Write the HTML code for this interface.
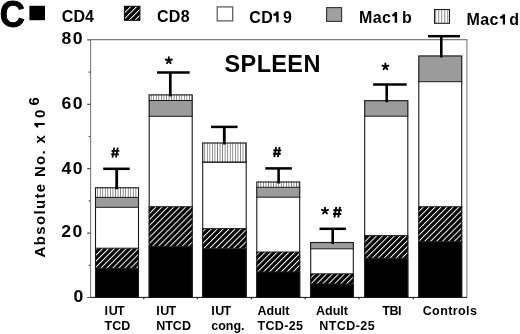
<!DOCTYPE html><html><head><meta charset="utf-8"><style>
html,body{margin:0;padding:0;background:#fff;width:520px;height:334px;overflow:hidden}
svg{display:block;will-change:transform}
text{font-family:"Liberation Sans",sans-serif;font-weight:bold;fill:#000}
</style></head><body>
<svg width="520" height="334" viewBox="0 0 520 334">
<defs>
<pattern id="hatch" patternUnits="userSpaceOnUse" width="4.2" height="4.2" patternTransform="rotate(45)"><rect width="4.2" height="4.2" fill="#000"/><rect x="0" y="0" width="1.0" height="4.2" fill="#fff"/></pattern>
<pattern id="vl" patternUnits="userSpaceOnUse" width="2.55" height="10" x="0.3"><rect width="2.55" height="10" fill="#fff"/><rect x="0" y="0" width="0.8" height="10" fill="#707070"/></pattern>
<pattern id="vl2" patternUnits="userSpaceOnUse" width="3" height="10" x="0.2"><rect width="3" height="10" fill="#fff"/><rect x="0" y="0" width="0.9" height="10" fill="#808080"/></pattern>
</defs>
<g stroke="#7d7d7d" stroke-width="1.1" fill="none">
<path d="M90.6 39.6 H466.9 V297.4"/>
<path d="M90.6 39.6 V297.5"/>
</g>
<path d="M87.2 297.5 H90.6 M88.6 265.3 H90.6 M87.2 233.1 H90.6 M88.6 200.9 H90.6 M87.2 168.7 H90.6 M88.6 136.5 H90.6 M87.2 104.3 H90.6 M88.6 72.1 H90.6 M87.2 39.9 H90.6" stroke="#555" stroke-width="1.2" fill="none"/>
<path d="M90.6 297.4 H467" stroke="#111" stroke-width="1" fill="none"/>
<path d="M143.8 297.4 V299.2 M197.4 297.4 V299.2 M251.5 297.4 V299.2 M305.2 297.4 V299.2 M359.0 297.4 V299.2 M413.3 297.4 V299.2" stroke="#333" stroke-width="1.3" fill="none"/>
<rect x="95.0" y="268.4" width="44.0" height="29.0" fill="#000"/>
<rect x="95.0" y="248.2" width="44.0" height="20.2" fill="url(#hatch)"/>
<rect x="95.0" y="207.3" width="44.0" height="40.9" fill="#fff"/>
<rect x="95.0" y="197.4" width="44.0" height="9.9" fill="#9b9b9b"/>
<rect x="95.0" y="187.3" width="44.0" height="10.1" fill="url(#vl)"/>
<rect x="95.5" y="187.8" width="43.0" height="109.6" fill="none" stroke="#1a1a1a" stroke-width="1.1"/>
<path d="M95.0 268.4 H139.0 M95.0 248.2 H139.0 M95.0 207.3 H139.0 M95.0 197.4 H139.0" stroke="#1a1a1a" stroke-width="1" fill="none"/>
<path d="M116.7 168.8 V189.3" stroke="#000" stroke-width="2.8" fill="none"/>
<path d="M103.2 168.8 H129.7" stroke="#000" stroke-width="2.5" fill="none"/>
<rect x="148.7" y="246.3" width="44.0" height="51.1" fill="#000"/>
<rect x="148.7" y="206.7" width="44.0" height="39.6" fill="url(#hatch)"/>
<rect x="148.7" y="116.3" width="44.0" height="90.4" fill="#fff"/>
<rect x="148.7" y="100.5" width="44.0" height="15.8" fill="#9b9b9b"/>
<rect x="148.7" y="94.4" width="44.0" height="6.1" fill="url(#vl)"/>
<rect x="149.2" y="94.9" width="43.0" height="202.5" fill="none" stroke="#1a1a1a" stroke-width="1.1"/>
<path d="M148.7 246.3 H192.7 M148.7 206.7 H192.7 M148.7 116.3 H192.7 M148.7 100.5 H192.7" stroke="#1a1a1a" stroke-width="1" fill="none"/>
<path d="M170.3 72.4 V96.4" stroke="#000" stroke-width="2.7" fill="none"/>
<path d="M157.1 72.4 H189.7" stroke="#000" stroke-width="2.5" fill="none"/>
<rect x="202.2" y="248.7" width="44.5" height="48.7" fill="#000"/>
<rect x="202.2" y="228.6" width="44.5" height="20.1" fill="url(#hatch)"/>
<rect x="202.2" y="162.2" width="44.5" height="66.4" fill="#fff"/>
<rect x="202.2" y="142.5" width="44.5" height="19.7" fill="url(#vl)"/>
<rect x="202.7" y="143.0" width="43.5" height="154.4" fill="none" stroke="#1a1a1a" stroke-width="1.1"/>
<path d="M202.2 248.7 H246.7 M202.2 228.6 H246.7 M202.2 162.2 H246.7 M202.2 162.2 H246.7" stroke="#1a1a1a" stroke-width="1" fill="none"/>
<path d="M224.3 126.9 V144.5" stroke="#000" stroke-width="2.8" fill="none"/>
<path d="M211.0 126.9 H237.6" stroke="#000" stroke-width="2.5" fill="none"/>
<rect x="256.3" y="272.0" width="43.9" height="25.4" fill="#000"/>
<rect x="256.3" y="252.0" width="43.9" height="20.0" fill="url(#hatch)"/>
<rect x="256.3" y="197.2" width="43.9" height="54.8" fill="#fff"/>
<rect x="256.3" y="187.3" width="43.9" height="9.9" fill="#9b9b9b"/>
<rect x="256.3" y="181.5" width="43.9" height="5.8" fill="url(#vl)"/>
<rect x="256.8" y="182.0" width="42.9" height="115.4" fill="none" stroke="#1a1a1a" stroke-width="1.1"/>
<path d="M256.3 272.0 H300.2 M256.3 252.0 H300.2 M256.3 197.2 H300.2 M256.3 187.3 H300.2" stroke="#1a1a1a" stroke-width="1" fill="none"/>
<path d="M278.6 168.4 V183.5" stroke="#000" stroke-width="2.6" fill="none"/>
<path d="M265.3 168.4 H291.9" stroke="#000" stroke-width="2.5" fill="none"/>
<rect x="310.2" y="284.0" width="43.6" height="13.4" fill="#000"/>
<rect x="310.2" y="273.8" width="43.6" height="10.2" fill="url(#hatch)"/>
<rect x="310.2" y="248.8" width="43.6" height="25.0" fill="#fff"/>
<rect x="310.2" y="242.0" width="43.6" height="6.8" fill="#9b9b9b"/>
<rect x="310.7" y="242.5" width="42.6" height="54.9" fill="none" stroke="#1a1a1a" stroke-width="1.1"/>
<path d="M310.2 284.0 H353.8 M310.2 273.8 H353.8 M310.2 248.8 H353.8" stroke="#1a1a1a" stroke-width="1" fill="none"/>
<path d="M332.7 228.8 V244.0" stroke="#000" stroke-width="2.6" fill="none"/>
<path d="M319.5 228.8 H345.9" stroke="#000" stroke-width="2.5" fill="none"/>
<rect x="364.2" y="258.2" width="44.1" height="39.2" fill="#000"/>
<rect x="364.2" y="235.6" width="44.1" height="22.6" fill="url(#hatch)"/>
<rect x="364.2" y="116.2" width="44.1" height="119.4" fill="#fff"/>
<rect x="364.2" y="100.2" width="44.1" height="16.0" fill="#9b9b9b"/>
<rect x="364.7" y="100.7" width="43.1" height="196.7" fill="none" stroke="#1a1a1a" stroke-width="1.1"/>
<path d="M364.2 258.2 H408.3 M364.2 235.6 H408.3 M364.2 116.2 H408.3" stroke="#1a1a1a" stroke-width="1" fill="none"/>
<path d="M386.7 84.4 V102.2" stroke="#000" stroke-width="2.6" fill="none"/>
<path d="M373.1 84.4 H406.7" stroke="#000" stroke-width="2.5" fill="none"/>
<rect x="418.3" y="241.7" width="43.9" height="55.7" fill="#000"/>
<rect x="418.3" y="206.7" width="43.9" height="35.0" fill="url(#hatch)"/>
<rect x="418.3" y="81.7" width="43.9" height="125.0" fill="#fff"/>
<rect x="418.3" y="55.5" width="43.9" height="26.2" fill="#9b9b9b"/>
<rect x="418.8" y="56.0" width="42.9" height="241.4" fill="none" stroke="#1a1a1a" stroke-width="1.1"/>
<path d="M418.3 241.7 H462.2 M418.3 206.7 H462.2 M418.3 81.7 H462.2" stroke="#1a1a1a" stroke-width="1" fill="none"/>
<path d="M441.3 36.2 V57.5" stroke="#000" stroke-width="2.6" fill="none"/>
<path d="M428.0 36.2 H460.0" stroke="#000" stroke-width="2.5" fill="none"/>
<path d="M114.20 147.70 L112.50 157.60 M117.70 147.70 L116.00 157.60 M111.50 150.90 L119.30 150.90 M111.20 154.30 L118.80 154.30" stroke="#000" stroke-width="1.75" fill="none"/>
<path d="M276.06 147.01 L274.33 157.11 M279.63 147.01 L277.90 157.11 M273.31 150.27 L281.26 150.27 M273.00 153.74 L280.75 153.74" stroke="#000" stroke-width="1.79" fill="none"/>
<path d="M336.24 206.83 L334.40 217.52 M340.02 206.83 L338.18 217.52 M333.32 210.29 L341.75 210.29 M333.00 213.96 L341.21 213.96" stroke="#000" stroke-width="1.89" fill="none"/>
<rect x="29.4" y="5.8" width="15.6" height="14.4" fill="#000"/>
<rect x="124.4" y="6.3" width="15.5" height="14" fill="url(#hatch)" stroke="#000" stroke-width="1"/>
<rect x="217.2" y="6.9" width="15.5" height="14" fill="#fff" stroke="#555" stroke-width="1.2"/>
<rect x="326.6" y="7.6" width="15" height="13.8" fill="#a0a0a0" stroke="#333" stroke-width="1.1"/>
<rect x="434.5" y="9.5" width="15" height="13.8" fill="url(#vl2)" stroke="#222" stroke-width="1.1"/>
<text transform="translate(61.5,44.4) scale(1.1,1)" font-size="16" letter-spacing="1.3">80</text>
<text transform="translate(61.6,108.7) scale(1.1,1)" font-size="16" letter-spacing="1.3">60</text>
<text transform="translate(61.5,173.9) scale(1.1,1)" font-size="16" letter-spacing="1.3">40</text>
<text transform="translate(61.3,237.4) scale(1.1,1)" font-size="16" letter-spacing="1.3">20</text>
<text transform="translate(73.6,302.0) scale(1.1,1)" font-size="16" letter-spacing="1.3">0</text>
<text x="224.6" y="72.3" font-size="23.5" letter-spacing="0.35">SPLEEN</text>
<path d="M168.80 60.50 L168.80 57.30 M168.80 60.50 L171.84 59.51 M168.80 60.50 L170.68 63.09 M168.80 60.50 L166.92 63.09 M168.80 60.50 L165.76 59.51" stroke="#000" stroke-width="1.9" stroke-linecap="round" fill="none"/>
<path d="M385.40 66.60 L385.40 63.40 M385.40 66.60 L388.44 65.61 M385.40 66.60 L387.28 69.19 M385.40 66.60 L383.52 69.19 M385.40 66.60 L382.36 65.61" stroke="#000" stroke-width="1.9" stroke-linecap="round" fill="none"/>
<path d="M325.00 210.80 L325.00 207.60 M325.00 210.80 L328.04 209.81 M325.00 210.80 L326.88 213.39 M325.00 210.80 L323.12 213.39 M325.00 210.80 L321.96 209.81" stroke="#000" stroke-width="1.9" stroke-linecap="round" fill="none"/>
<text x="104.6" y="314.6" font-size="12.5" dx="0 0.6 -0.8">IUT</text>
<text x="104.6" y="330.2" font-size="12.5" >TCD</text>
<text x="156.2" y="314.6" font-size="12.5" dx="0 0.6 -0.8">IUT</text>
<text x="156.2" y="330.2" font-size="12.5" >NTCD</text>
<text x="211.2" y="314.6" font-size="12.5" dx="0 0.6 -0.8">IUT</text>
<text x="211.2" y="330.2" font-size="12.5" >cong.</text>
<text x="257.5" y="314.6" font-size="12.5" >Adult</text>
<text x="257.5" y="330.2" font-size="12.5" letter-spacing="0.35">TCD-25</text>
<text x="316" y="314.6" font-size="12.5" >Adult</text>
<text x="382.3" y="314.6" font-size="12.5" letter-spacing="-0.5">TBI</text>
<text x="422.7" y="314.6" font-size="12.5" letter-spacing="0.4">Controls</text>
<text x="319.2" y="330.2" font-size="12.5" letter-spacing="0.45">NTCD-25</text>
<text transform="translate(-0.2,26.9) scale(0.95,1.02)" font-size="36.5" stroke="#000" stroke-width="0.9">C</text>
<text x="61.7" y="21.8" font-size="16" letter-spacing="0.15">CD4</text>
<text x="156.9" y="21.7" font-size="16" letter-spacing="0.4">CD8</text>
<text x="249.3" y="22.5" font-size="16" letter-spacing="0.4">CD</text>
<path d="M278.60 11.40 V22.30 H276.20 V15.70 L273.30 15.80 L273.30 13.90 Q275.60 13.10 276.30 11.40 Z" fill="#000"/>
<text x="282.9" y="22.5" font-size="16" >9</text>
<text x="359.0" y="23.0" font-size="16" letter-spacing="0.35">Mac</text>
<path d="M397.10 11.90 V22.70 H394.70 V16.20 L392.20 16.30 L392.20 14.40 Q394.10 13.60 394.80 11.90 Z" fill="#000"/>
<text x="402.0" y="23.0" font-size="16" >b</text>
<text x="466.6" y="24.9" font-size="16" letter-spacing="0.35">Mac</text>
<path d="M505.00 14.20 V24.60 H502.80 V18.50 L499.90 18.60 L499.90 16.70 Q502.20 15.90 502.90 14.20 Z" fill="#000"/>
<text x="509.2" y="24.9" font-size="16" >d</text>
<g transform="translate(44.7,257.4) rotate(-90)">
<text x="0" y="0" font-size="15" letter-spacing="1.33">Absolute No. x</text>
<path d="M134.40 -10.40 V0 H132.40 V-6.50 L129.80 -6.40 L129.80 -8.10 Q131.90 -8.80 132.50 -10.40 Z" fill="#000"/>
<text x="139.5" y="0" font-size="15">0</text>
<text x="151.9" y="-5.3" font-size="15">6</text>
</g>
</svg></body></html>
